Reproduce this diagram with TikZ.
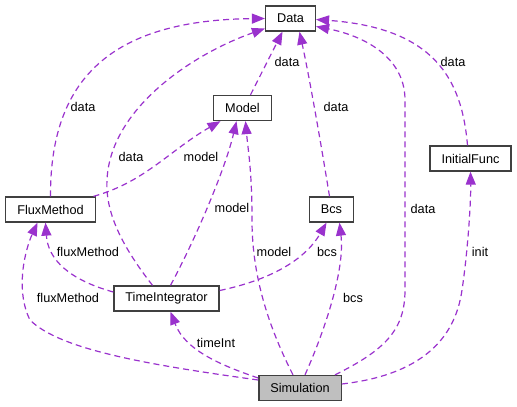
\documentclass[tikz,border=0pt]{standalone}
\usepackage{fontspec}
\setmainfont{Liberation Sans}
\usetikzlibrary{arrows.meta}
\definecolor{edgepurple}{HTML}{9A32CD}
\definecolor{boxgray}{HTML}{BFBFBF}
\definecolor{boxline}{HTML}{404040}

\begin{document}
\begin{tikzpicture}
	[x=1pt, y=-1pt,
	font=\fontsize{12.7}{15}\selectfont,
	cls/.style ={rectangle, draw=boxline, line width=1.3pt, fill=white, inner xsep=11.5pt, inner ysep=0pt, minimum height=25pt},
	simcls/.style ={cls, fill=boxgray},
	lbl/.style ={inner sep=0pt},
	dep/.style ={draw=edgepurple, line width=1.2pt, dash pattern=on 6pt off 4pt, -{Triangle[length=13pt,width=10pt]}}]
	\useasboundingbox (0,0) rectangle (517,407);
	\node[cls] (data) at (290.5,18.5) {Data};
	\node[cls] (model) at (242.5,108) {Model};
	\node[cls] (init) at (470.5,158.5) {InitialFunc};
	\node[cls] (flux) at (50.5,209.5) {FluxMethod};
	\node[cls] (bcs) at (331.5,209.5) {Bcs};
	\node[cls] (timeint) at (166.5,298.5) {TimeIntegrator};
	\node[simcls] (sim) at (300,388) {Simulation};
	\node[lbl] (lflux-data) at (83,107) {data};
	\node[lbl] (lti-data) at (131,157) {data};
	\node[lbl] (lmodel-data) at (287,62) {data};
	\node[lbl] (lbcs-data) at (336,107) {data};
	\node[lbl] (linit-data) at (453,62) {data};
	\node[lbl] (lsim-data) at (423,209) {data};
	\node[lbl] (lflux-model) at (201,157) {model};
	\node[lbl] (lti-model) at (232,208) {model};
	\node[lbl] (lsim-model) at (274,252) {model};
	\node[lbl] (lti-flux) at (88,252) {fluxMethod};
	\node[lbl] (lsim-flux) at (68,298) {fluxMethod};
	\node[lbl] (lti-bcs) at (327,252) {bcs};
	\node[lbl] (lsim-bcs) at (353,298) {bcs};
	\node[lbl] (lsim-ti) at (216,343) {timeInt};
	\node[lbl] (lsim-init) at (480,252) {init};
	\draw[dep] (flux.north) .. controls (50,80) and (110,20) .. (data.west);
	\draw[dep] ([xshift=-14pt]timeint.north) .. controls (125,250) and (105,215) .. (107,180) .. controls (110,110) and (190,55) .. ([yshift=-10pt]data.west);
	\draw[dep] ([xshift=8pt]model.north) -- ([xshift=-8pt]data.south);
	\draw[dep] ([xshift=-2pt]bcs.north) .. controls (322,150) and (310,80) .. ([xshift=9pt]data.south);
	\draw[dep] ([xshift=35pt]sim.north) .. controls (385,350) and (405,330) .. (405,290) -- (405,100) .. controls (405,55) and (360,35) .. ([yshift=-8pt]data.east);
	\draw[dep] ([xshift=-3pt]init.north) .. controls (462,80) and (435,28) .. ([yshift=-1pt]data.east);
	\draw[dep] ([xshift=43pt]flux.north) .. controls (145,182) and (170,150) .. ([xshift=-22pt]model.south);
	\draw[dep] ([xshift=4pt]timeint.north) .. controls (195,240) and (225,170) .. ([xshift=-6pt]model.south);
	\draw[dep] ([xshift=-7pt]sim.north) .. controls (265,320) and (252,270) .. (252,220) .. controls (252,170) and (248,150) .. ([xshift=3pt]model.south);
	\draw[dep] ([yshift=6.5pt]timeint.west) .. controls (70,280) and (48,260) .. ([xshift=-5pt]flux.south);
	\draw[dep] ([yshift=8pt]sim.west) .. controls (150,365) and (60,350) .. (30,320) .. controls (15,290) and (25,250) .. ([xshift=-13pt]flux.south);
	\draw[dep] ([yshift=8pt]timeint.east) .. controls (270,280) and (305,260) .. ([xshift=-5pt]bcs.south);
	\draw[dep] ([xshift=5pt]sim.north) .. controls (325,330) and (345,270) .. ([xshift=8pt]bcs.south);
	\draw[dep] ([yshift=10pt]sim.west) .. controls (220,365) and (185,350) .. ([xshift=4pt]timeint.south);
	\draw[dep] ([yshift=4pt]sim.east) .. controls (420,375) and (455,340) .. (462,290) .. controls (468,250) and (471,200) .. (init.south);
\end{tikzpicture}
\end{document}
